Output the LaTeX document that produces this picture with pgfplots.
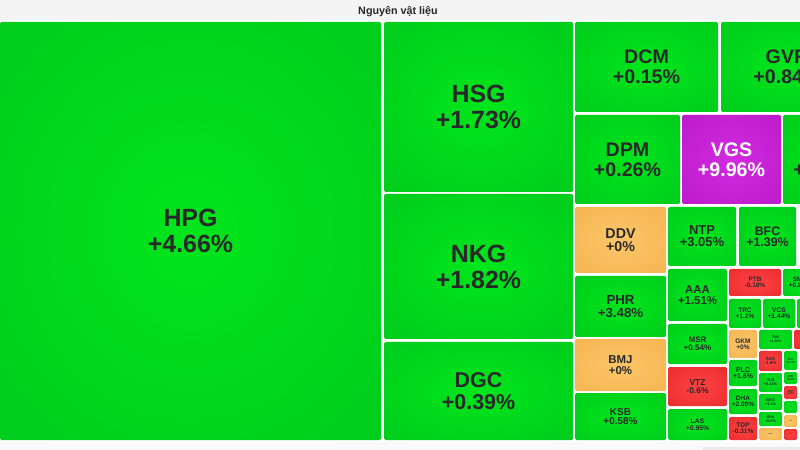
\documentclass[border=0pt]{standalone}
\usepackage{pgfplots}
\pgfplotsset{compat=1.18}
\usepackage{fontspec}
\setmainfont{Liberation Sans}[BoldFont={Liberation Sans Bold}]

\definecolor{gC}{RGB}{0,230,28}
\definecolor{gE}{RGB}{0,194,28}
\definecolor{rC}{RGB}{255,66,66}
\definecolor{rE}{RGB}{226,36,40}
\definecolor{oC}{RGB}{252,198,104}
\definecolor{oE}{RGB}{242,174,74}
\definecolor{pC}{RGB}{210,42,226}
\definecolor{pE}{RGB}{178,22,192}
\definecolor{txt}{RGB}{40,40,40}
\definecolor{bar}{RGB}{244,244,244}

\pgfdeclareradialshading{shg}{\pgfpoint{0bp}{0bp}}{color(0bp)=(gC); color(50bp)=(gE)}
\pgfdeclareradialshading{shr}{\pgfpoint{0bp}{0bp}}{color(0bp)=(rC); color(50bp)=(rE)}
\pgfdeclareradialshading{sho}{\pgfpoint{0bp}{0bp}}{color(0bp)=(oC); color(50bp)=(oE)}
\pgfdeclareradialshading{shp}{\pgfpoint{0bp}{0bp}}{color(0bp)=(pC); color(50bp)=(pE)}

% x0 y0 x1 y1 shading textcolour label fontsize skip
\newcommand{\cell}[9]{%
  \addplot[draw=none, mark=none, shade, shading=#5, rounded corners=1.5bp]
    coordinates {(#1,#2) (#3,#2) (#3,#4) (#1,#4)} -- cycle;
  \node[text=#6, align=center, inner sep=0pt,
        font=\fontsize{#8}{#9}\selectfont\bfseries]
    at (axis cs:{(#1+#3)/2},{(#2+#4)/2}) {#7};
}

\begin{document}
\begin{tikzpicture}
\begin{axis}[
    scale only axis, width=800bp, height=450bp,
    xmin=0, xmax=800, ymin=0, ymax=450,
    y dir=reverse, hide axis,
    ]
    % background, title strip, bottom strip
    \addplot[draw=none, mark=none, fill=white] coordinates {(0,0) (800,0) (800,450) (0,450)} -- cycle;
    \addplot[draw=none, mark=none, fill=bar] coordinates {(0,0) (800,0) (800,20) (0,20)} -- cycle;
    \addplot[draw=none, mark=none, fill=black!2] coordinates {(0,442) (800,442) (800,450) (0,450)} -- cycle;
    \addplot[draw=none, mark=none, fill=black!8] coordinates {(703,447) (800,447) (800,450) (703,450)} -- cycle;
    \node[text=txt, font=\fontsize{10.8}{12}\selectfont\bfseries] at (axis cs:398,11.5) {Nguyên vật liệu};

    \cell{0}{22}{381}{440}{shg}{txt}{HPG\\+4.66\%}{25}{26}
    \cell{384}{22}{573}{192}{shg}{txt}{HSG\\+1.73\%}{25}{26}
    \cell{384}{194}{573}{339}{shg}{txt}{NKG\\+1.82\%}{25}{26}
    \cell{384}{342}{573}{440}{shg}{txt}{DGC\\+0.39\%}{21.5}{21.5}
    \cell{575}{22}{718}{112}{shg}{txt}{DCM\\+0.15\%}{19.7}{20}
    \cell{721}{22}{853}{112}{shg}{txt}{GVR\\+0.84\%}{19.7}{20}
    \cell{575}{115}{680}{204}{shg}{txt}{DPM\\+0.26\%}{19.7}{20}
    \cell{682}{115}{781}{204}{shp}{white}{VGS\\+9.96\%}{19.7}{20}
    \cell{783}{115}{871}{204}{shg}{txt}{CSV\\+1.05\%}{19.7}{20}

    \cell{575}{207}{666}{273}{sho}{txt}{DDV\\+0\%}{14.3}{13.5}
    \cell{575}{276}{666}{337}{shg}{txt}{PHR\\+3.48\%}{13.3}{12.5}
    \cell{575}{339}{666}{391}{sho}{txt}{BMJ\\+0\%}{11.5}{11}
    \cell{575}{393}{666}{440}{shg}{txt}{KSB\\+0.58\%}{10}{9.5}
    \cell{668}{207}{736}{266}{shg}{txt}{NTP\\+3.05\%}{13}{12}
    \cell{739}{207}{796}{266}{shg}{txt}{BFC\\+1.39\%}{12.4}{11.5}
    \cell{668}{269}{727}{321}{shg}{txt}{AAA\\+1.51\%}{11.4}{10.5}
    \cell{668}{324}{727}{364}{shg}{txt}{MSR\\+0.54\%}{8.1}{7.8}
    \cell{668}{367}{727}{406}{shr}{txt}{VTZ\\-0.6\%}{8.5}{8}
    \cell{668}{409}{727}{440}{shg}{txt}{LAS\\+0.95\%}{6.8}{6.5}

    \cell{729}{269}{781}{296}{shr}{txt}{PTB\\-0.18\%}{6.5}{6.2}
    \cell{783}{269}{817}{296}{shg}{txt}{SMC\\+0.89\%}{6.5}{6.2}
    \cell{729}{299}{761}{328}{shg}{txt}{TRC\\+1.2\%}{6.5}{6.2}
    \cell{763}{299}{795}{328}{shg}{txt}{VCS\\+1.44\%}{6.7}{6.4}
    \cell{797}{299}{830}{328}{shg}{txt}{HII\\+0.5\%}{6.5}{6.2}
    \cell{729}{330}{757}{358}{sho}{txt}{GKM\\+0\%}{6.6}{6.2}
    \cell{729}{360}{757}{386}{shg}{txt}{PLC\\+1.6\%}{7}{6.6}
    \cell{729}{389}{757}{414}{shg}{txt}{DHA\\+2.09\%}{6.6}{6.3}
    \cell{729}{417}{757}{440}{shr}{txt}{TDP\\-0.31\%}{6.6}{6.3}

    \cell{759}{330}{792}{349}{shg}{txt}{TVN\\+1.38\%}{3.5}{3.5}
    \cell{794}{330}{830}{349}{shr}{txt}{HMC\\-0.5\%}{3.5}{3.5}
    \cell{759}{351}{782}{371}{shr}{txt}{AVG\\-1.8\%}{4.6}{4.4}
    \cell{784}{351}{797}{370}{shg}{txt}{TLH\\+1.7\%}{3}{3}
    \cell{759}{373}{782}{392}{shg}{txt}{VLB\\+0.43\%}{3.9}{3.8}
    \cell{784}{372}{797}{384}{shg}{txt}{APH\\+0.6\%}{2.8}{2.8}
    \cell{759}{394}{782}{410}{shg}{txt}{BKG\\+1.1\%}{3.8}{3.6}
    \cell{784}{386}{797}{399}{shr}{txt}{RDP\\-0.9\%}{2.8}{2.8}
    \cell{759}{412}{782}{426}{shg}{txt}{SHA\\+0.5\%}{3.8}{3.6}
    \cell{784}{401}{797}{413}{shg}{txt}{...}{4}{4}
    \cell{759}{428}{782}{440}{sho}{txt}{...}{5}{5}
    \cell{784}{415}{797}{427}{sho}{txt}{...}{4}{4}
    \cell{784}{429}{797}{440}{shr}{txt}{...}{4}{4}
\end{axis}
\pgfresetboundingbox
\useasboundingbox (current axis.south west) rectangle (current axis.north east);
\end{tikzpicture}
\end{document}
